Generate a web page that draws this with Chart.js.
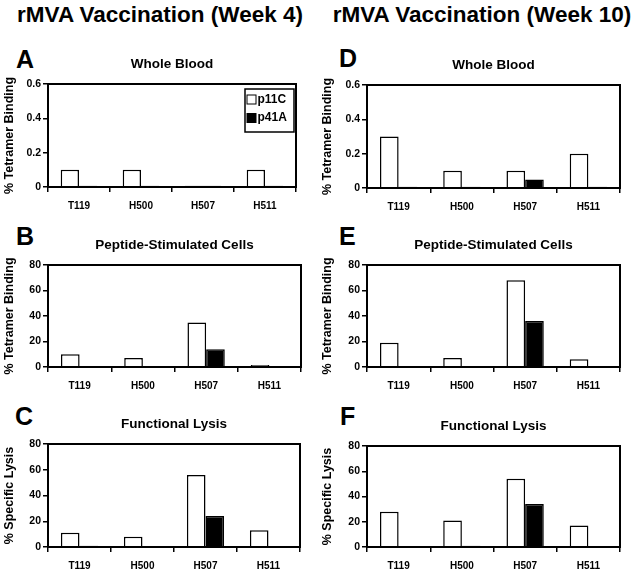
<!DOCTYPE html>
<html>
<head>
<meta charset="utf-8">
<script src="https://cdn.jsdelivr.net/npm/chart.js@4.4.0/dist/chart.umd.min.js"></script>
<style>
  body { margin: 0; background: #fff; font-family: "Liberation Sans", Arial, sans-serif; }
  #page { position: relative; width: 636px; height: 574px; overflow: hidden; }
  .hd { position: absolute; font-weight: bold; font-size: 22.5px; line-height: 1; white-space: nowrap; transform: translateX(-50%); }
  .lt { position: absolute; font-weight: bold; font-size: 25px; line-height: 1; }
  canvas { position: absolute; }
</style>
</head>
<body>
<div id="page">
  <div class="hd" style="left:160px; top:4px;">rMVA Vaccination (Week 4)</div>
  <div class="hd" style="left:482px; top:4px;">rMVA Vaccination (Week 10)</div>
  <div class="lt" style="left:16px; top:47px;">A</div>
  <div class="lt" style="left:16px; top:224px;">B</div>
  <div class="lt" style="left:15px; top:404px;">C</div>
  <div class="lt" style="left:339px; top:46px;">D</div>
  <div class="lt" style="left:339px; top:224px;">E</div>
  <div class="lt" style="left:340px; top:404px;">F</div>
</div>
<script>
const categories = ['T119', 'H500', 'H507', 'H511'];
const seriesNames = ['p11C', 'p41A'];

// week 4
const bloodW4P11C = [0.1, 0.1, 0.008, 0.1];
const bloodW4P41A = [0.008, 0.008, 0.008, 0.008];
const peptideW4P11C = [10, 7, 35, 1.5];
const peptideW4P41A = [0.3, 0.3, 14, 0];
const lysisW4P11C = [11, 8, 56, 13];
const lysisW4P41A = [1, 0, 24, 0];

// week 10
const bloodW10P11C = [0.3, 0.1, 0.1, 0.2];
const bloodW10P41A = [0.008, 0.008, 0.05, 0.008];
const peptideW10P11C = [19, 7, 68, 6];
const peptideW10P41A = [0.3, 0.3, 36, 0];
const lysisW10P11C = [28, 21, 54, 17];
const lysisW10P41A = [0, 1, 34, 0];

const FONT = '"Liberation Sans", Arial, sans-serif';
Chart.defaults.font.family = FONT;
Chart.defaults.color = '#000';

// box + subtitle + optional legend drawn in the chart area
const panelDecor = {
  id: 'panelDecor',
  afterDraw(chart, args, opts) {
    const ctx = chart.ctx, a = chart.chartArea;
    ctx.save();
    ctx.strokeStyle = '#000';
    ctx.lineWidth = 2;
    ctx.strokeRect(a.left, a.top, a.right - a.left, a.bottom - a.top);
    ctx.fillStyle = '#000';
    ctx.font = 'bold 13.5px ' + FONT;
    ctx.textAlign = 'center';
    ctx.textBaseline = 'alphabetic';
    ctx.fillText(opts.subtitle, (a.left + a.right) / 2, a.top - 16.5);
    if (opts.legend) {
      const bx = a.right - 51, by = a.top + 5;
      ctx.lineWidth = 1.5;
      ctx.strokeRect(bx, by, 49, 43);
      ctx.font = 'bold 12px ' + FONT;
      ctx.textAlign = 'left';
      ctx.textBaseline = 'middle';
      chart.data.datasets.forEach((ds, i) => {
        const cy = by + 10.5 + i * 18.5;
        ctx.fillStyle = ds.backgroundColor;
        ctx.fillRect(bx + 2, cy - 4.5, 9, 9);
        ctx.lineWidth = 1;
        ctx.strokeRect(bx + 2, cy - 4.5, 9, 9);
        ctx.fillStyle = '#000';
        ctx.fillText(ds.label, bx + 12.5, cy);
      });
    }
    ctx.restore();
  }
};

function makePanel(colLeft, colWidth, area, p11, p41, yMax, yStep, yTitle, subtitle, legend) {
  const canvas = document.createElement('canvas');
  const top = area.top - 40;
  const h = area.bottom - area.top + 40 + 28;
  canvas.width = colWidth;
  canvas.height = h;
  canvas.style.left = colLeft + 'px';
  canvas.style.top = top + 'px';
  canvas.style.width = colWidth + 'px';
  canvas.style.height = h + 'px';
  document.getElementById('page').appendChild(canvas);

  new Chart(canvas, {
    type: 'bar',
    data: {
      labels: categories,
      datasets: [{
        label: seriesNames[0],
        data: p11,
        backgroundColor: '#fff',
        borderColor: '#000',
        borderWidth: 1.5,
        categoryPercentage: 0.59,
        barPercentage: 1
      }, {
        label: seriesNames[1],
        data: p41,
        backgroundColor: '#000',
        borderColor: '#000',
        borderWidth: 1.5,
        categoryPercentage: 0.59,
        barPercentage: 1
      }]
    },
    options: {
      responsive: false,
      animation: false,
      devicePixelRatio: 1,
      layout: { padding: { top: 40, left: 0, bottom: 0, right: colLeft + colWidth - area.right } },
      plugins: {
        legend: { display: false },
        tooltip: { enabled: false },
        panelDecor: { subtitle: subtitle, legend: legend }
      },
      scales: {
        x: {
          grid: { offset: true, drawOnChartArea: false, drawTicks: true, tickLength: 5, color: '#000', lineWidth: 1.5 },
          border: { display: true, color: '#000', width: 2 },
          ticks: { color: '#000', font: { size: 10, weight: 'bold' }, padding: 8, maxRotation: 0 },
          afterFit: s => { s.height = 28; }
        },
        y: {
          min: 0,
          max: yMax,
          ticks: { stepSize: yStep, color: '#000', font: { size: 10.5, weight: 'bold' }, padding: 2 },
          grid: { drawOnChartArea: false, tickLength: 5, color: '#000', lineWidth: 1.5 },
          border: { display: true, color: '#000', width: 2 },
          title: { display: true, text: yTitle, color: '#000', font: { size: 12.5, weight: 'bold' }, padding: { top: 2, bottom: 0 } },
          afterFit: s => { s.width = area.left - colLeft; }
        }
      }
    },
    plugins: [panelDecor]
  });
}

makePanel(0, 310, { left: 48, right: 296, top: 84, bottom: 187 }, bloodW4P11C, bloodW4P41A, 0.6, 0.2, '% Tetramer Binding', 'Whole Blood', true);
makePanel(0, 310, { left: 48, right: 301, top: 265, bottom: 367 }, peptideW4P11C, peptideW4P41A, 80, 20, '% Tetramer Binding', 'Peptide-Stimulated Cells', false);
makePanel(0, 310, { left: 48, right: 300, top: 444, bottom: 547 }, lysisW4P11C, lysisW4P41A, 80, 20, '% Specific Lysis', 'Functional Lysis', false);
makePanel(318, 318, { left: 367, right: 620, top: 85, bottom: 188 }, bloodW10P11C, bloodW10P41A, 0.6, 0.2, '% Tetramer Binding', 'Whole Blood', false);
makePanel(318, 318, { left: 367, right: 620, top: 265, bottom: 367 }, peptideW10P11C, peptideW10P41A, 80, 20, '% Tetramer Binding', 'Peptide-Stimulated Cells', false);
makePanel(318, 318, { left: 367, right: 620, top: 446, bottom: 547 }, lysisW10P11C, lysisW10P41A, 80, 20, '% Specific Lysis', 'Functional Lysis', false);
</script>
</body>
</html>
